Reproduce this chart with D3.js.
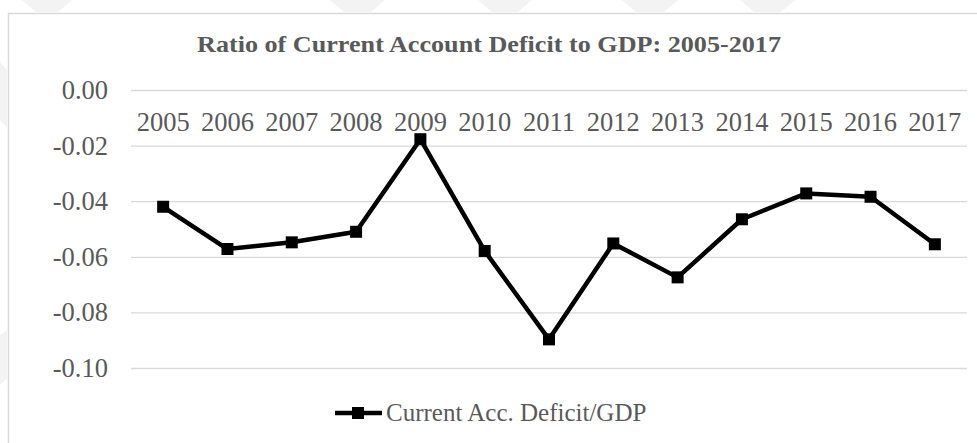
<!DOCTYPE html>
<html>
<head>
<meta charset="utf-8">
<script src="https://cdn.jsdelivr.net/npm/d3@7"></script>
<style>
  html, body { margin: 0; padding: 0; background: #fff; }
  svg { display: block; }
  text { font-family: "Liberation Serif", "Times New Roman", serif; }
</style>
</head>
<body>
<svg id="chart" width="977" height="443"></svg>
<script>
const years = ["2005","2006","2007","2008","2009","2010","2011","2012","2013","2014","2015","2016","2017"];
const deficitRatio = [-0.042, -0.0572, -0.0548, -0.051, -0.0177, -0.0579, -0.0897, -0.0552, -0.0674, -0.0465, -0.0372, -0.0384, -0.0555];
const yTicks = [0, -0.02, -0.04, -0.06, -0.08, -0.10];
const title = "Ratio of Current Account Deficit to GDP: 2005-2017";
const seriesName = "Current Acc. Deficit/GDP";

const svg = d3.select("#chart");
const W = 977, H = 443;

// faint background watermark shapes
const wm = svg.append("g").attr("fill", "#f3f3f3");
[[22, 72], [330, 385], [478, 532], [622, 678], [740, 795]].forEach(([a, b]) => {
  wm.append("path").attr("d", `M${a},0 L${b},0 L${b - 14},12 L${a + 14},12 Z`);
});
wm.append("path").attr("d", "M0,62 L7,70 L7,128 L0,120 Z");
wm.append("path").attr("d", "M0,335 L7,330 L7,378 L0,385 Z");

// chart border
svg.append("rect")
  .attr("x", 8.5).attr("y", 13.5)
  .attr("width", W).attr("height", H)
  .attr("fill", "#fff")
  .attr("stroke", "#d9d9d9").attr("stroke-width", 1.5);

const x = d3.scaleBand().domain(years).range([131, 967]);
const y = d3.scaleLinear().domain([-0.10, 0]).range([368, 90]);

// title
svg.append("text")
  .attr("x", 489).attr("y", 52)
  .attr("text-anchor", "middle")
  .attr("font-size", 24).attr("font-weight", "bold")
  .attr("fill", "#595959")
  .attr("textLength", 584).attr("lengthAdjust", "spacingAndGlyphs")
  .text(title);

// gridlines + y labels via axis
const yAxis = d3.axisLeft(y).tickValues(yTicks)
  .tickFormat(d3.format(".2f"))
  .tickSize(-(967 - 131)).tickPadding(23);
const gy = svg.append("g").attr("transform", "translate(131,0)").call(yAxis);
gy.select(".domain").remove();
gy.selectAll(".tick line").attr("stroke", "#d9d9d9").attr("stroke-width", 1.3);
gy.selectAll(".tick text")
  .attr("fill", "#595959").attr("font-size", 26.5)
  .attr("font-family", "Liberation Serif, Times New Roman, serif")
  .text(d => d === 0 ? "0.00" : "-" + d3.format(".2f")(Math.abs(d)));

// x labels at the top
const xAxis = d3.axisTop(x).tickSize(0).tickPadding(0);
const gx = svg.append("g").attr("transform", "translate(0,130.5)").call(xAxis);
gx.select(".domain").remove();
gx.selectAll(".tick text")
  .attr("fill", "#595959").attr("font-size", 26.5)
  .attr("font-family", "Liberation Serif, Times New Roman, serif")
  .attr("dy", 0);

// line
const pts = years.map((yr, i) => ({ yr, v: deficitRatio[i] }));
const line = d3.line().x(d => x(d.yr) + x.bandwidth() / 2).y(d => y(d.v));
svg.append("path").datum(pts)
  .attr("d", line)
  .attr("fill", "none").attr("stroke", "#000")
  .attr("stroke-width", 4.5).attr("stroke-linejoin", "round");

const ms = 12;
svg.append("g").selectAll("rect").data(pts).join("rect")
  .attr("x", d => x(d.yr) + x.bandwidth() / 2 - ms / 2)
  .attr("y", d => y(d.v) - ms / 2)
  .attr("width", ms).attr("height", ms)
  .attr("fill", "#000");

// legend
const lg = svg.append("g");
lg.append("line").attr("x1", 335).attr("x2", 382).attr("y1", 413).attr("y2", 413)
  .attr("stroke", "#000").attr("stroke-width", 4.5);
lg.append("rect").attr("x", 358 - 6).attr("y", 413 - 6).attr("width", 12).attr("height", 12).attr("fill", "#000");
lg.append("text").attr("x", 386).attr("y", 421)
  .attr("font-size", 25).attr("fill", "#595959")
  .text(seriesName);
</script>
</body>
</html>
